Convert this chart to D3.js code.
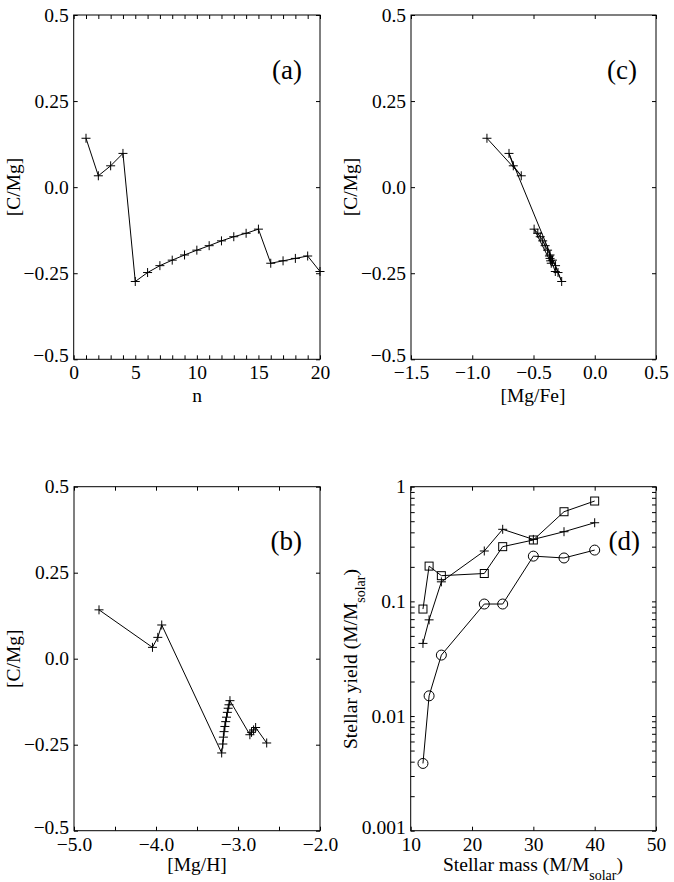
<!DOCTYPE html>
<html><head><meta charset="utf-8">
<script src="https://cdn.jsdelivr.net/npm/d3@7"></script>
<style>
body{margin:0;background:#fff;}
svg{display:block;font-family:"Liberation Serif","DejaVu Serif",serif;}
.domain{display:none;}
</style></head>
<body><svg id="c" width="674" height="882"></svg>
<script>
// ---- data ----
const nIndex = [1,2,3,4,5,6,7,8,9,10,11,12,13,14,15,16,17,18,19,20];
const cmg = [0.142,0.033,0.062,0.098,-0.274,-0.248,-0.228,-0.212,-0.197,-0.183,-0.170,-0.156,-0.144,-0.134,-0.122,-0.221,-0.214,-0.207,-0.200,-0.245];
const mgfe = [-0.88,-0.60,-0.665,-0.70,-0.27,-0.30,-0.32,-0.345,-0.365,-0.385,-0.405,-0.425,-0.445,-0.465,-0.495,-0.355,-0.36,-0.365,-0.37,-0.322];
const mgh = [-4.695,-4.043,-3.978,-3.93,-3.199,-3.185,-3.178,-3.17,-3.16,-3.15,-3.14,-3.13,-3.12,-3.11,-3.098,-2.855,-2.835,-2.81,-2.785,-2.65];
const stellarMass = [12,13,15,22,25,30,35,40];
const yieldPlus = [0.043,0.069,0.148,0.275,0.425,0.347,0.405,0.485];
const yieldSquare = [0.0857,0.203,0.1675,0.175,0.30,0.343,0.605,0.75];
const yieldCircle = [0.00386,0.015,0.034,0.0948,0.0948,0.248,0.239,0.28];

const cmgTicks = [-0.5,-0.25,0,0.25,0.5];
const cmgTickLabels = ["\u22120.5","\u22120.25","0.0","0.25","0.5"];
const nTicksMinor = d3.range(0,21,1);
const nTicks = [0,5,10,15,20];
const nTickLabels = ["0","5","10","15","20"];
const mgfeTicks = [-1.5,-1,-0.5,0,0.5];
const mgfeTickLabels = ["\u22121.5","\u22121.0","\u22120.5","0.0","0.5"];
const mghTicksMinor = [-5,-4.5,-4,-3.5,-3,-2.5,-2];
const mghTicks = [-5,-4,-3,-2];
const mghTickLabels = ["\u22125.0","\u22124.0","\u22123.0","\u22122.0"];
const massTicks = [10,20,30,40,50];
const massTickLabels = ["10","20","30","40","50"];
const yieldTicks = [0.001,0.01,0.1,1];
const yieldTickLabels = ["0.001","0.01","0.1","1"];

const svg = d3.select("#c");
const FS = 19.5, TL = 4;

function panel(cfg){
  const g = svg.append("g");
  const x = d3.scaleLinear().domain(cfg.xDom).range([cfg.L,cfg.R]);
  const y = (cfg.ylog?d3.scaleLog():d3.scaleLinear()).domain(cfg.yDom).range([cfg.B,cfg.T]);
  const tickStyle = s=>s.selectAll("line").attr("stroke","#000").attr("stroke-width",1);
  g.append("g").attr("transform",`translate(0,${cfg.B})`)
    .call(d3.axisBottom(x).tickValues(cfg.xMinor).tickSizeInner(-TL).tickSizeOuter(0).tickFormat(""))
    .call(tickStyle);
  g.append("g").attr("transform",`translate(0,${cfg.T})`)
    .call(d3.axisTop(x).tickValues(cfg.xMinor).tickSizeInner(-TL).tickSizeOuter(0).tickFormat(""))
    .call(tickStyle);
  g.append("g").attr("transform",`translate(${cfg.L},0)`)
    .call(d3.axisLeft(y).tickValues(cfg.yMinor).tickSizeInner(-TL).tickSizeOuter(0).tickFormat(""))
    .call(tickStyle);
  g.append("g").attr("transform",`translate(${cfg.R},0)`)
    .call(d3.axisRight(y).tickValues(cfg.yMinor).tickSizeInner(-TL).tickSizeOuter(0).tickFormat(""))
    .call(tickStyle);
  const xl = g.append("g").attr("transform",`translate(0,${cfg.B})`)
    .call(d3.axisBottom(x).tickValues(cfg.xTicks).tickSize(0).tickPadding(6).tickFormat((d,i)=>cfg.xLabels[i]));
  xl.selectAll("text").attr("font-size",FS).attr("font-family","Liberation Serif").attr("fill","#000");
  const yl = g.append("g").attr("transform",`translate(${cfg.L},0)`)
    .call(d3.axisLeft(y).tickValues(cfg.yTicks).tickSize(0).tickPadding(5).tickFormat((d,i)=>cfg.yLabels[i]));
  yl.selectAll("text").attr("font-size",FS).attr("font-family","Liberation Serif").attr("fill","#000");
  // lift the lowest y label slightly so it clears the first x label
  yl.selectAll("text").filter((d,i)=>i===0).attr("dy","0.12em");
  g.append("rect").attr("x",cfg.L).attr("y",cfg.T).attr("width",cfg.R-cfg.L).attr("height",cfg.B-cfg.T)
    .attr("fill","none").attr("stroke","#000").attr("stroke-width",1);
  cfg.series.forEach(s=>{
    const pts = s.xs.map((v,i)=>[x(v),y(s.ys[i])]);
    g.append("path").attr("d",d3.line()(pts)).attr("fill","none").attr("stroke","#000").attr("stroke-width",1);
    pts.forEach(p=>{
      if(s.marker==="plus"){
        g.append("path").attr("d",`M${p[0]-4.5},${p[1]}H${p[0]+4.5}M${p[0]},${p[1]-4.5}V${p[1]+4.5}`)
          .attr("stroke","#000").attr("stroke-width",1);
      } else if(s.marker==="square"){
        g.append("rect").attr("x",p[0]-4).attr("y",p[1]-4).attr("width",8).attr("height",8)
          .attr("fill","none").attr("stroke","#000").attr("stroke-width",1);
      } else {
        g.append("circle").attr("cx",p[0]).attr("cy",p[1]).attr("r",5)
          .attr("fill","none").attr("stroke","#000").attr("stroke-width",1);
      }
    });
  });
  g.append("text").attr("x",cfg.tag[1]).attr("y",cfg.tag[2]).attr("text-anchor","end")
    .attr("font-size",27).text(cfg.tag[0]);
  return g;
}

// (a)
panel({L:73.7,R:320,T:15,B:359.3,xDom:[0,20],yDom:[-0.5,0.5],
  xMinor:nTicksMinor,xTicks:nTicks,xLabels:nTickLabels,
  yMinor:cmgTicks,yTicks:cmgTicks,yLabels:cmgTickLabels,
  series:[{xs:nIndex,ys:cmg,marker:"plus"}],tag:["(a)",302,79]});
// (c)
panel({L:411,R:656,T:15,B:359.3,xDom:[-1.5,0.5],yDom:[-0.5,0.5],
  xMinor:mgfeTicks,xTicks:mgfeTicks,xLabels:mgfeTickLabels,
  yMinor:cmgTicks,yTicks:cmgTicks,yLabels:cmgTickLabels,
  series:[{xs:mgfe,ys:cmg,marker:"plus"}],tag:["(c)",637,79]});
// (b)
panel({L:74,R:320,T:486.7,B:830.7,xDom:[-5,-2],yDom:[-0.5,0.5],
  xMinor:mghTicksMinor,xTicks:mghTicks,xLabels:mghTickLabels,
  yMinor:cmgTicks,yTicks:cmgTicks,yLabels:cmgTickLabels,
  series:[{xs:mgh,ys:cmg,marker:"plus"}],tag:["(b)",302,550]});
// (d)
const yieldMinor = [];
[0.001,0.01,0.1].forEach(d=>{for(let k=1;k<=9;k++) yieldMinor.push(d*k);});
yieldMinor.push(1);
panel({L:410.7,R:656,T:486.7,B:830.7,xDom:[10,50],yDom:[0.001,1],ylog:true,
  xMinor:massTicks,xTicks:massTicks,xLabels:massTickLabels,
  yMinor:yieldMinor,yTicks:yieldTicks,yLabels:yieldTickLabels,
  series:[{xs:stellarMass,ys:yieldPlus,marker:"plus"},
          {xs:stellarMass,ys:yieldSquare,marker:"square"},
          {xs:stellarMass,ys:yieldCircle,marker:"circle"}],tag:["(d)",640,550]});

function txt(x,y,s,rot){
  return svg.append("text").attr("font-size",FS).attr("text-anchor","middle")
    .attr("transform",`translate(${x},${y})${rot?" rotate(-90)":""}`).text(s);
}
txt(197,402,"n");
txt(533,402,"[Mg/Fe]");
txt(197,871,"[Mg/H]");
txt(20,187,"[C/Mg]",true);
txt(357,187,"[C/Mg]",true);
txt(20,658.7,"[C/Mg]",true);

const sm = svg.append("text").attr("font-size",FS).attr("x",443).attr("y",871);
sm.append("tspan").text("Stellar mass (M/M");
sm.append("tspan").attr("font-size",14).attr("dy",9).text("solar");
sm.append("tspan").attr("dy",-9).text(")");
const sy = svg.append("text").attr("font-size",FS).attr("transform","translate(357,749) rotate(-90)");
sy.append("tspan").text("Stellar yield (M/M");
sy.append("tspan").attr("font-size",14).attr("dy",8).text("solar");
sy.append("tspan").attr("dy",-8).text(")");
</script></body></html>
